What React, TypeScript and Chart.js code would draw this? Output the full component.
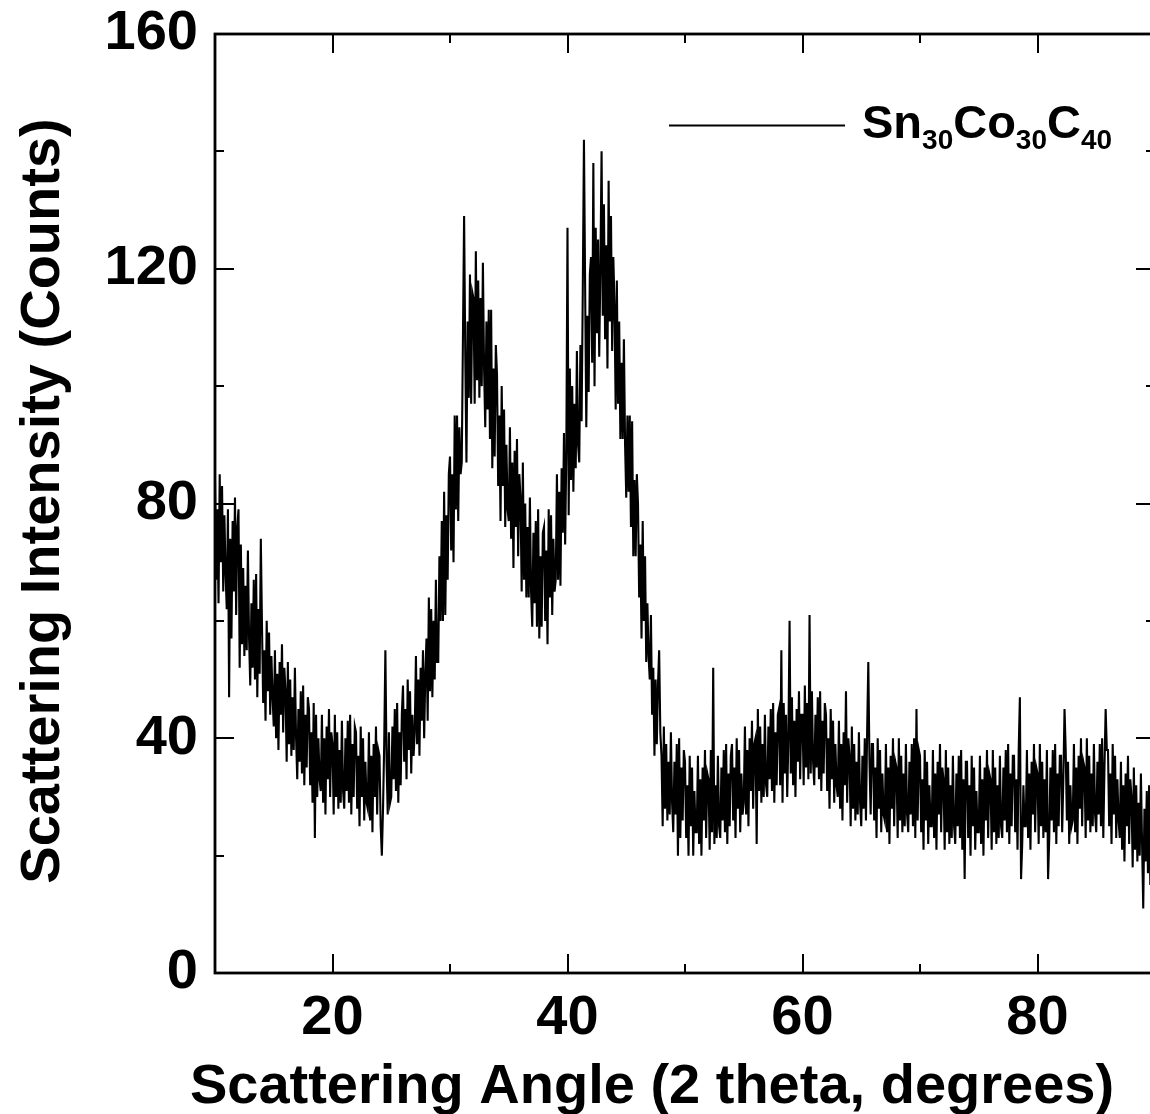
import React, { useEffect, useRef } from "react";
import { Chart, registerables } from "chart.js";

Chart.register(...registerables);

// ---- axis ranges & ticks ----
const X_MIN = 10;
const X_MAX = 90;
const Y_MIN = 0;
const Y_MAX = 160;
const X_MAJOR_TICKS = [20, 40, 60, 80];
const X_MINOR_TICKS = [10, 30, 50, 70, 90];
const Y_MAJOR_TICKS = [0, 40, 80, 120, 160];
const Y_MINOR_TICKS = [20, 60, 100, 140];

// ---- texts ----
const X_TITLE = "Scattering Angle (2 theta, degrees)";
const Y_TITLE = "Scattering Intensity (Counts)";
const SERIES_LABEL = "Sn30Co30C40";
const SERIES_LABEL_PARTS: [string, boolean][] = [
  ["Sn", false], ["30", true], ["Co", false], ["30", true], ["C", false], ["40", true],
];

// ---- sampling grid (2 theta, degrees) ----
const ANGLE_START = 10;
const ANGLE_STEP = 0.1;

// ---- intensity (counts), 10 samples per degree ----
const COUNTS_10_29 = [
  84, 67, 79, 63, 85, 70, 83, 65, 78, 68,
  62, 79, 47, 74, 57, 77, 65, 81, 61, 76,
  79, 52, 73, 56, 69, 54, 66, 55, 72, 57,
  49, 63, 52, 67, 50, 68, 47, 62, 51, 74,
  59, 46, 55, 43, 60, 48, 58, 44, 54, 47,
  42, 55, 40, 51, 38, 53, 44, 56, 41, 52,
  48, 36, 53, 39, 50, 37, 47, 38, 52, 40,
  33, 45, 36, 48, 34, 49, 32, 44, 35, 47,
  45, 32, 41, 29, 46, 23, 44, 30, 40, 33,
  31, 44, 29, 40, 27, 42, 33, 45, 30, 41,
  39, 27, 44, 30, 41, 28, 38, 29, 43, 31,
  28, 40, 31, 43, 29, 44, 27, 39, 30, 42,
  41, 28, 37, 25, 42, 30, 40, 26, 36, 29,
  28, 41, 26, 37, 24, 39, 30, 42, 27, 38,
  37, 25, 20, 28, 39, 55, 36, 27, 41, 29,
  30, 42, 33, 45, 31, 46, 29, 41, 32, 44,
  49, 36, 45, 33, 50, 38, 48, 34, 44, 37,
  41, 54, 39, 50, 37, 52, 43, 55, 40, 51,
  57, 43, 64, 48, 62, 47, 60, 50, 67, 53,
  53, 71, 60, 77, 60, 82, 61, 78, 67, 85,
];

const COUNTS_30_49 = [
  88, 72, 85, 70, 95, 79, 95, 77, 93, 85,
  87, 108, 129, 105, 87, 111, 98, 119, 97, 116,
  115, 97, 123, 101, 118, 98, 115, 100, 121, 103,
  93, 111, 96, 113, 91, 113, 86, 103, 88, 107,
  102, 83, 95, 77, 100, 83, 96, 76, 90, 79,
  77, 93, 74, 87, 69, 89, 76, 91, 71, 85,
  81, 65, 87, 67, 80, 64, 76, 64, 81, 65,
  59, 75, 63, 77, 59, 79, 57, 71, 59, 75,
  76, 60, 72, 56, 79, 64, 78, 61, 74, 65,
  67, 85, 67, 82, 66, 86, 75, 92, 73, 89,
  127, 78, 103, 84, 100, 82, 97, 86, 106, 90,
  87, 107, 94, 116, 142, 117, 93, 112, 99, 119,
  122, 104, 138, 100, 127, 109, 125, 105, 120, 140,
  112, 131, 108, 124, 103, 135, 111, 129, 106, 122,
  114, 96, 118, 97, 111, 91, 104, 91, 108, 90,
  81, 95, 82, 95, 76, 94, 71, 84, 71, 85,
  80, 64, 73, 57, 77, 60, 71, 53, 63, 54,
  50, 61, 44, 52, 37, 50, 39, 49, 55, 41,
  37, 25, 42, 28, 39, 26, 36, 27, 41, 29,
  24, 36, 27, 39, 20, 40, 23, 35, 26, 38,
];

const COUNTS_50_69 = [
  36, 23, 32, 20, 37, 25, 35, 20, 31, 24,
  24, 37, 22, 33, 20, 35, 26, 38, 23, 34,
  33, 21, 38, 24, 52, 22, 32, 23, 37, 25,
  23, 35, 26, 38, 24, 39, 22, 34, 25, 37,
  39, 26, 35, 23, 40, 28, 38, 24, 34, 27,
  29, 42, 27, 38, 25, 40, 31, 43, 28, 39,
  40, 22, 45, 31, 42, 29, 39, 30, 44, 32,
  30, 42, 33, 45, 31, 46, 29, 41, 32, 44,
  45, 32, 55, 29, 46, 34, 44, 30, 40, 60,
  34, 47, 32, 43, 30, 45, 36, 48, 33, 44,
  44, 32, 49, 35, 46, 33, 61, 34, 48, 36,
  32, 44, 35, 47, 33, 48, 31, 43, 34, 46,
  44, 31, 40, 28, 45, 33, 43, 29, 39, 32,
  30, 43, 28, 39, 26, 41, 32, 48, 29, 40,
  37, 25, 42, 28, 39, 26, 36, 27, 41, 29,
  25, 37, 28, 40, 26, 41, 53, 36, 27, 39,
  39, 26, 35, 23, 40, 28, 38, 24, 34, 27,
  26, 39, 24, 35, 22, 37, 28, 40, 25, 36,
  35, 23, 40, 26, 37, 24, 34, 25, 39, 27,
  24, 36, 27, 39, 25, 40, 23, 45, 26, 38,
];

const COUNTS_70_90 = [
  37, 24, 33, 21, 38, 26, 36, 22, 32, 25,
  25, 38, 23, 34, 21, 36, 27, 39, 24, 35,
  33, 21, 38, 24, 35, 22, 32, 23, 37, 25,
  22, 34, 25, 37, 23, 38, 21, 33, 16, 36,
  36, 23, 32, 20, 37, 25, 35, 21, 31, 24,
  24, 37, 22, 33, 20, 35, 26, 38, 23, 34,
  33, 21, 38, 24, 35, 22, 32, 23, 37, 25,
  23, 35, 26, 38, 24, 39, 22, 34, 25, 37,
  37, 24, 33, 21, 38, 47, 16, 22, 32, 25,
  25, 38, 23, 34, 21, 36, 27, 39, 24, 35,
  34, 22, 39, 25, 36, 23, 33, 24, 38, 16,
  23, 35, 26, 38, 24, 39, 22, 34, 25, 37,
  37, 24, 33, 45, 38, 26, 36, 22, 32, 25,
  26, 39, 24, 35, 22, 37, 28, 40, 25, 36,
  35, 23, 40, 26, 37, 24, 34, 25, 39, 27,
  24, 36, 27, 39, 25, 40, 23, 35, 45, 38,
  38, 25, 34, 22, 39, 27, 37, 23, 33, 26,
  23, 36, 21, 32, 19, 34, 25, 37, 22, 33,
  30, 18, 35, 21, 32, 19, 29, 20, 34, 22,
  11, 28, 19, 31, 17, 32, 15, 27, 18, 30,
  22,
];

const FONT_FAMILY = '"Liberation Sans", Arial, sans-serif';
const MAJOR_LEN = 19;
const MINOR_LEN = 9;

const framePlugin = {
  id: "frameAndTexts",
  afterDraw(chart: any) {
    const { ctx, chartArea: a, scales } = chart;
    const xs = scales.x;
    const ys = scales.y;
    ctx.save();
    ctx.strokeStyle = "#000";
    ctx.lineWidth = 2.8;
    ctx.strokeRect(a.left, a.top, a.right - a.left, a.bottom - a.top);
    ctx.lineWidth = 2;
    const seg = (x1: number, y1: number, x2: number, y2: number) => {
      ctx.beginPath();
      ctx.moveTo(x1, y1);
      ctx.lineTo(x2, y2);
      ctx.stroke();
    };
    const xTicks = (vals: number[], len: number) =>
      vals.forEach((v) => {
        const p = Math.round(xs.getPixelForValue(v));
        seg(p, a.bottom, p, a.bottom - len);
        seg(p, a.top, p, a.top + len);
      });
    const yTicks = (vals: number[], len: number) =>
      vals.forEach((v) => {
        const p = Math.round(ys.getPixelForValue(v));
        seg(a.left, p, a.left + len, p);
        seg(a.right, p, a.right - len, p);
      });
    xTicks(X_MAJOR_TICKS, MAJOR_LEN);
    xTicks(X_MINOR_TICKS, MINOR_LEN);
    yTicks(Y_MAJOR_TICKS, MAJOR_LEN);
    yTicks(Y_MINOR_TICKS, MINOR_LEN);

    // axis titles
    ctx.fillStyle = "#000";
    ctx.font = `bold 56px ${FONT_FAMILY}`;
    ctx.textAlign = "center";
    ctx.textBaseline = "alphabetic";
    ctx.fillText(X_TITLE, 652, 1103);
    ctx.save();
    ctx.translate(59, 501);
    ctx.rotate(-Math.PI / 2);
    ctx.fillText(Y_TITLE, 0, 0);
    ctx.restore();

    // legend
    ctx.lineWidth = 1.8;
    seg(669, 125.5, 845, 125.5);
    ctx.textAlign = "left";
    let x = 862;
    SERIES_LABEL_PARTS.forEach(([t, sub]) => {
      ctx.font = sub ? `bold 28px ${FONT_FAMILY}` : `bold 47px ${FONT_FAMILY}`;
      ctx.fillText(t, x, sub ? 149 : 138);
      x += ctx.measureText(t).width;
    });
    ctx.restore();
  },
};

export default function App() {
  const ref = useRef<HTMLCanvasElement | null>(null);
  useEffect(() => {
    document.body.style.margin = "0";
    const canvas = ref.current;
    if (!canvas) return;
    const counts = [...COUNTS_10_29, ...COUNTS_30_49, ...COUNTS_50_69, ...COUNTS_70_90];
    const points = counts.map((c, i) => ({ x: ANGLE_START + i * ANGLE_STEP, y: c }));
    const tickFont = { family: FONT_FAMILY, size: 56, weight: "bold" as const };
    const chart = new Chart(canvas, {
      type: "line",
      data: {
        datasets: [
          {
            label: SERIES_LABEL,
            data: points,
            borderColor: "#000",
            borderWidth: 2.1,
            pointRadius: 0,
            tension: 0,
            fill: false,
          },
        ],
      },
      options: {
        animation: false,
        responsive: false,
        devicePixelRatio: 1,
        layout: { padding: { top: 34, right: 15, left: 0, bottom: 0 } },
        plugins: { legend: { display: false }, tooltip: { enabled: false } },
        scales: {
          x: {
            type: "linear",
            min: X_MIN,
            max: X_MAX,
            afterBuildTicks: (s: any) => {
              s.ticks = X_MAJOR_TICKS.map((v) => ({ value: v }));
            },
            afterFit: (s: any) => {
              s.height = 141;
              s.paddingLeft = 0;
              s.paddingRight = 0;
            },
            grid: { display: false, drawTicks: false },
            border: { display: false },
            ticks: { color: "#000", font: tickFont, padding: 12, maxRotation: 0, autoSkip: false },
          },
          y: {
            type: "linear",
            min: Y_MIN,
            max: Y_MAX,
            afterBuildTicks: (s: any) => {
              s.ticks = Y_MAJOR_TICKS.map((v) => ({ value: v }));
            },
            afterFit: (s: any) => {
              s.width = 215;
              s.paddingTop = 0;
              s.paddingBottom = 0;
            },
            grid: { display: false, drawTicks: false },
            border: { display: false },
            ticks: { color: "#000", font: tickFont, padding: 17, autoSkip: false },
          },
        },
      },
      plugins: [framePlugin],
    });
    return () => chart.destroy();
  }, []);
  return (
    <div style={{ position: "absolute", left: 0, top: 0, width: 1150, height: 1114, overflow: "hidden", background: "#fff" }}>
      <canvas ref={ref} width={1170} height={1114} style={{ display: "block", width: 1170, height: 1114 }} />
    </div>
  );
}
